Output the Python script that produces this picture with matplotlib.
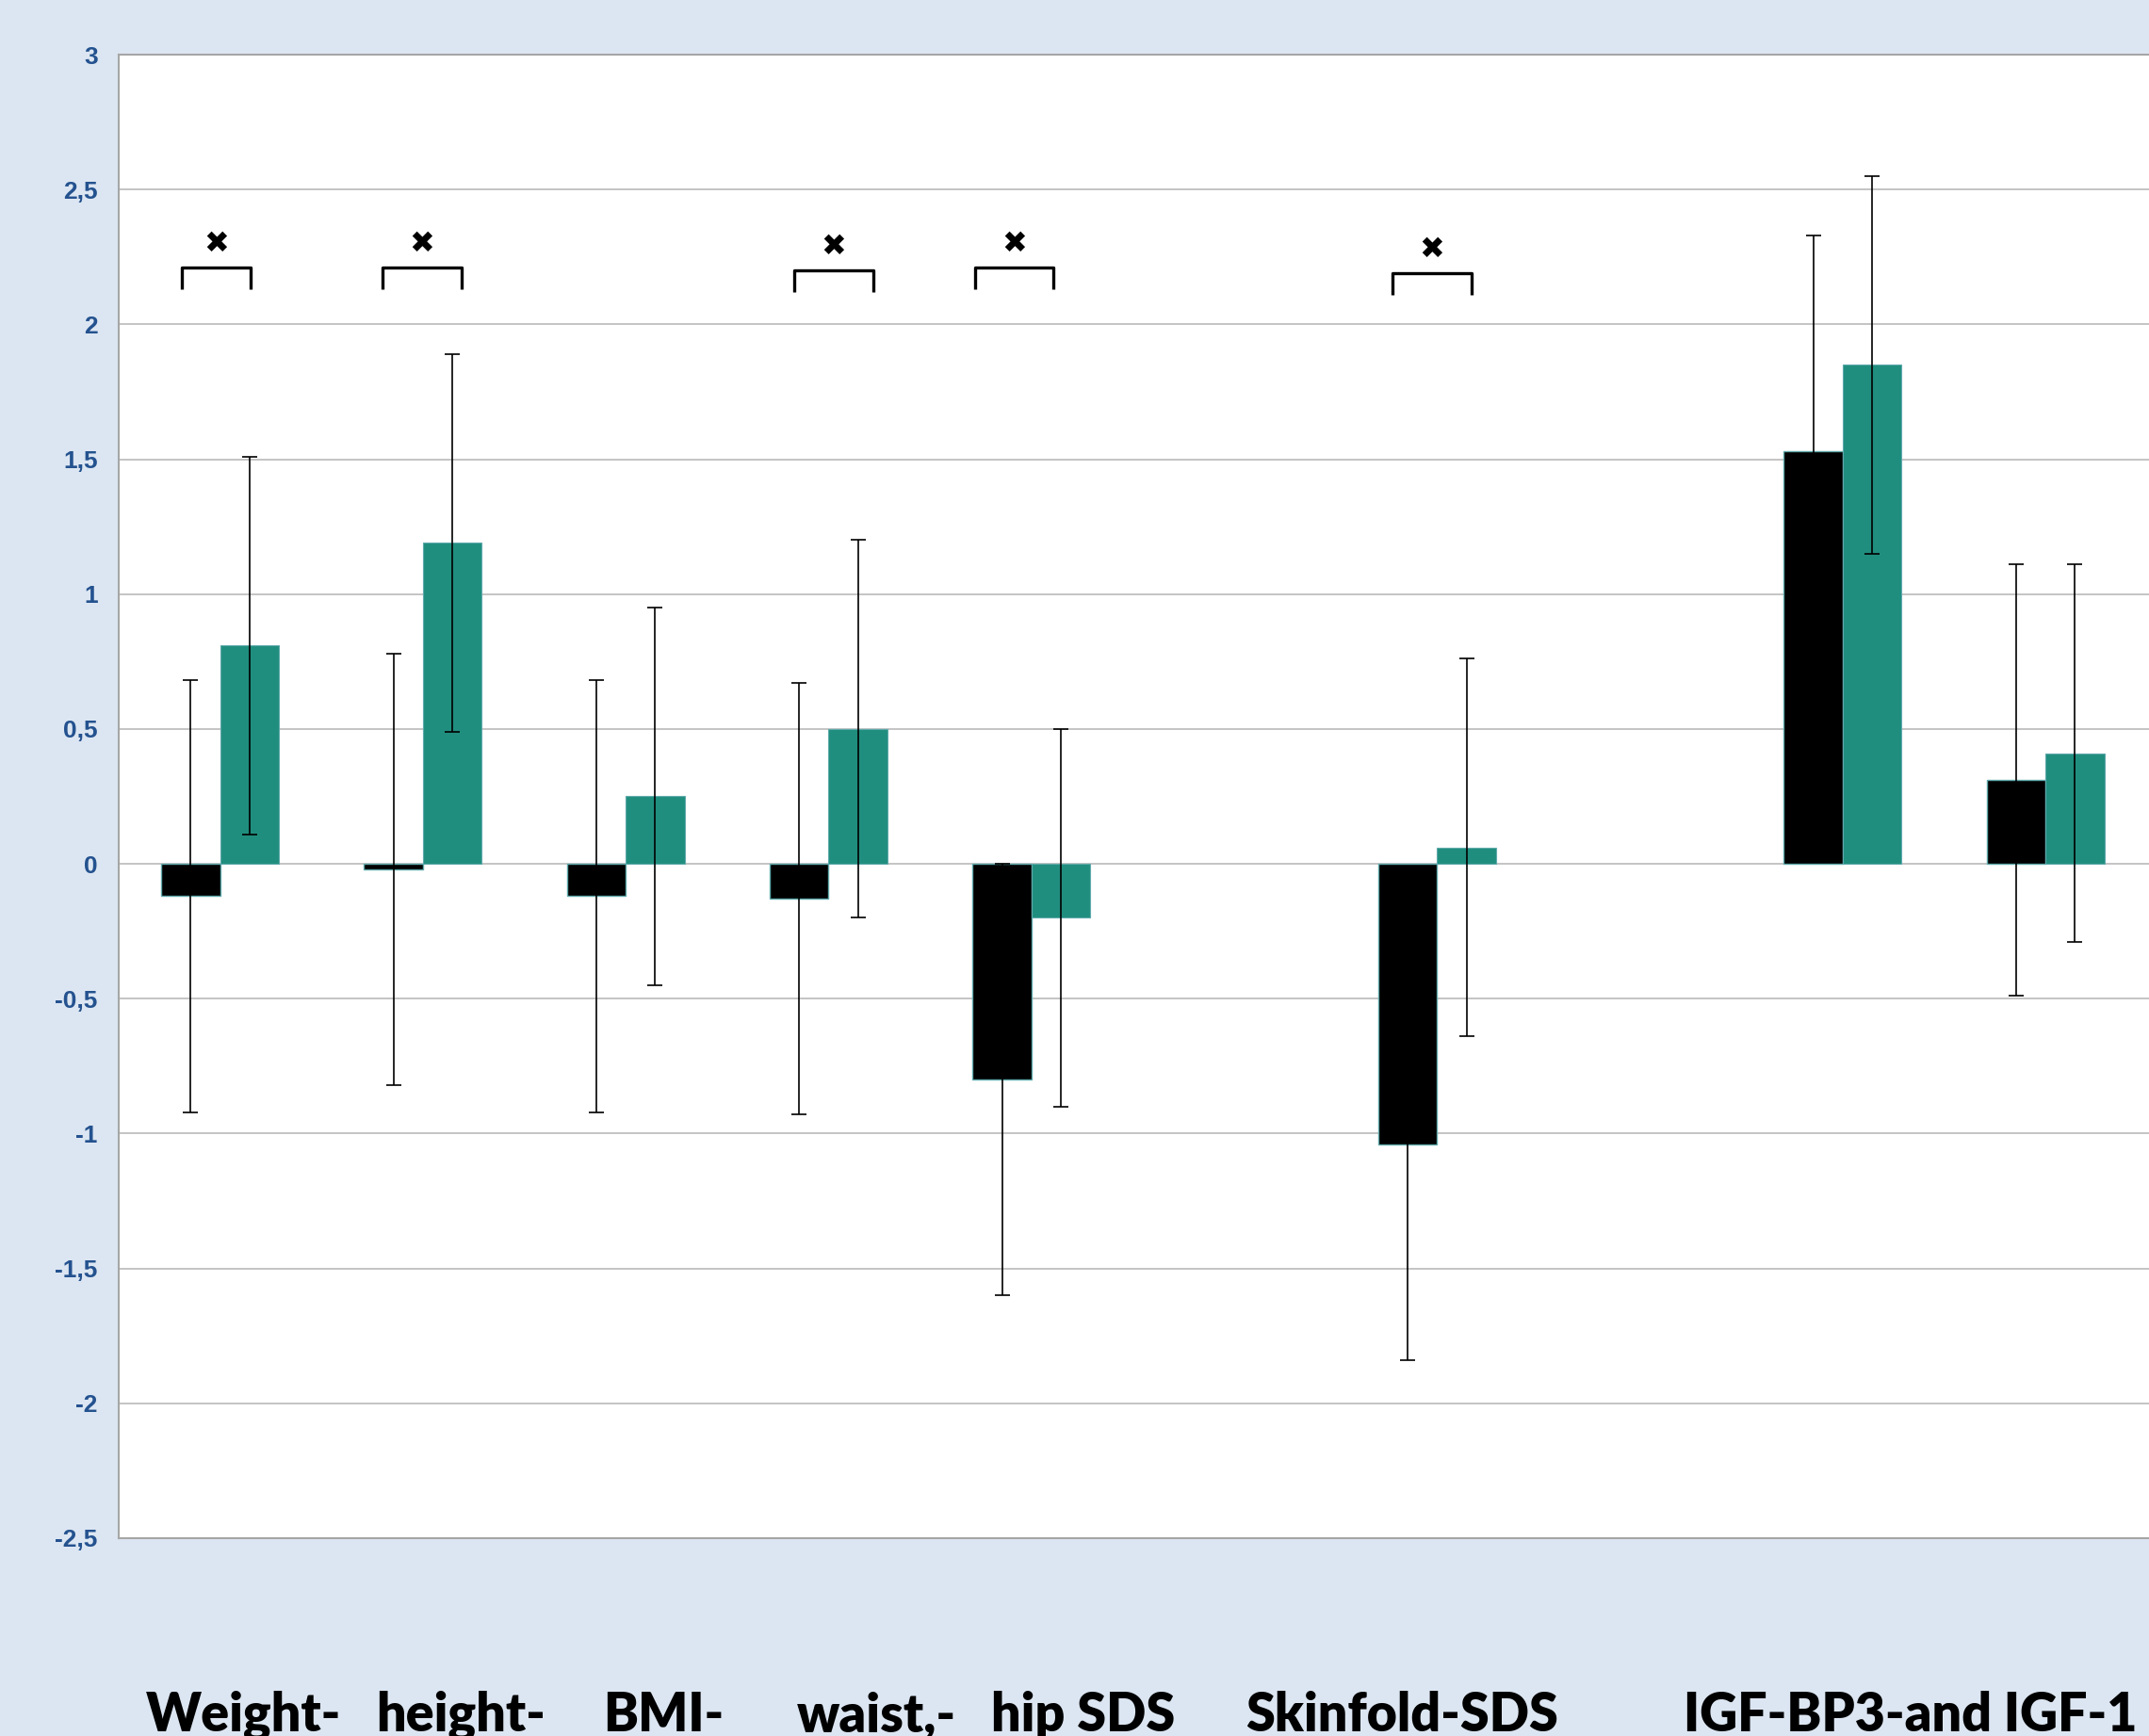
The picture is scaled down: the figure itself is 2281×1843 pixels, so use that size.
import numpy as np
import matplotlib
matplotlib.use("Agg")
import matplotlib.pyplot as plt
from matplotlib.transforms import blended_transform_factory

# group slots on the x axis (slots 5 and 7 are left empty in the original)
slots = [0, 1, 2, 3, 4, 6, 8, 9]
categories = ["Weight", "height", "BMI", "waist", "hip", "Skinfold", "IGF-BP3", "IGF-1"]

black_vals = [-0.12, -0.02, -0.12, -0.13, -0.80, -1.04, 1.53, 0.31]
black_err = [0.80, 0.80, 0.80, 0.80, 0.80, 0.80, 0.80, 0.80]
teal_vals = [0.81, 1.19, 0.25, 0.50, -0.20, 0.06, 1.85, 0.41]
teal_err = [0.70, 0.70, 0.70, 0.70, 0.70, 0.70, 0.70, 0.70]

# slots that carry a significance bracket
significant = [0, 1, 3, 4, 6]

ytick_values = [3, 2.5, 2, 1.5, 1, 0.5, 0, -0.5, -1, -1.5, -2, -2.5]
ytick_labels = ["3", "2,5", "2", "1,5", "1", "0,5", "0", "-0,5", "-1", "-1,5", "-2", "-2,5"]

bottom_labels = ["Weight-", "height-", "BMI-", "waist,-", "hip SDS", "Skinfold-SDS", "IGF-BP3-and IGF-1"]

# layout of the hand-placed annotations
bottom_label_x = [0.114, 1.186, 2.185, 3.235, 4.257, 5.827, 8.335]
bracket_span = [(-0.19, 0.15), (-0.20, 0.19), (-0.17, 0.22), (-0.28, 0.11), (-0.22, 0.17)]
bracket_top = [2.21, 2.21, 2.20, 2.21, 2.19]

BG = "#dce6f2"
TEAL = "#208e7e"
EDGE = "#5fa9ab"
TICK_BLUE = "#24528f"

fig = plt.figure(figsize=(22.81, 18.43), dpi=100, facecolor=BG)
ax = fig.add_axes([126 / 2281, 1 - 1633 / 1843, 1 - 126 / 2281, (1633 - 58) / 1843])
ax.set_facecolor("white")

x = np.array(slots, dtype=float)
w = 0.29

ax.bar(x - w / 2, black_vals, w, color="black", edgecolor=EDGE, linewidth=1.0, zorder=2)
ax.bar(x + w / 2, teal_vals, w, color=TEAL, edgecolor=EDGE, linewidth=0.8, zorder=2)

ax.errorbar(x - w / 2, black_vals, yerr=black_err, fmt="none", ecolor="black",
            elinewidth=1.2, capsize=5.5, capthick=1.2, zorder=3)
ax.errorbar(x + w / 2, teal_vals, yerr=teal_err, fmt="none", ecolor="black",
            elinewidth=1.2, capsize=5.5, capthick=1.2, zorder=3)

# significance brackets with a heavy cross on top
for s, (l, r), top in zip(significant, bracket_span, bracket_top):
    x0, x1 = s + l, s + r
    ax.plot([x0, x0, x1, x1], [top - 0.08, top, top, top - 0.08], color="black", lw=2.4,
            solid_joinstyle="round", solid_capstyle="butt", zorder=4)
    ax.text((x0 + x1) / 2, top + 0.085, "\u2716", ha="center", va="center",
            fontsize=23, family="DejaVu Sans", color="black", zorder=4)

ax.set_xlim(-0.5, 9.51)
ax.set_ylim(-2.5, 3)
ax.set_xticks([])
ax.set_yticks(ytick_values)
ax.set_yticklabels(ytick_labels, fontsize=19, fontweight="bold",
                   color=TICK_BLUE, family="Liberation Sans")
ax.tick_params(axis="y", length=0, pad=16)
ax.yaxis.grid(True, color="#bfbfbf", lw=1.3, zorder=0)
ax.set_axisbelow(True)

for side in ["left", "top", "bottom"]:
    ax.spines[side].set_color("#a6a6a6")
    ax.spines[side].set_linewidth(1.5)
ax.spines["right"].set_visible(False)

# category captions sit at the bottom edge, cut off just like in the original slide
trans = blended_transform_factory(ax.transData, fig.transFigure)
for lab, xp in zip(bottom_labels, bottom_label_x):
    fig.text(xp, 1 - 1838 / 1843, lab, transform=trans, ha="center", va="baseline",
             fontsize=40, fontweight="heavy", family="Lato", color="black")

fig.savefig("out.png", dpi=100, facecolor=BG)
